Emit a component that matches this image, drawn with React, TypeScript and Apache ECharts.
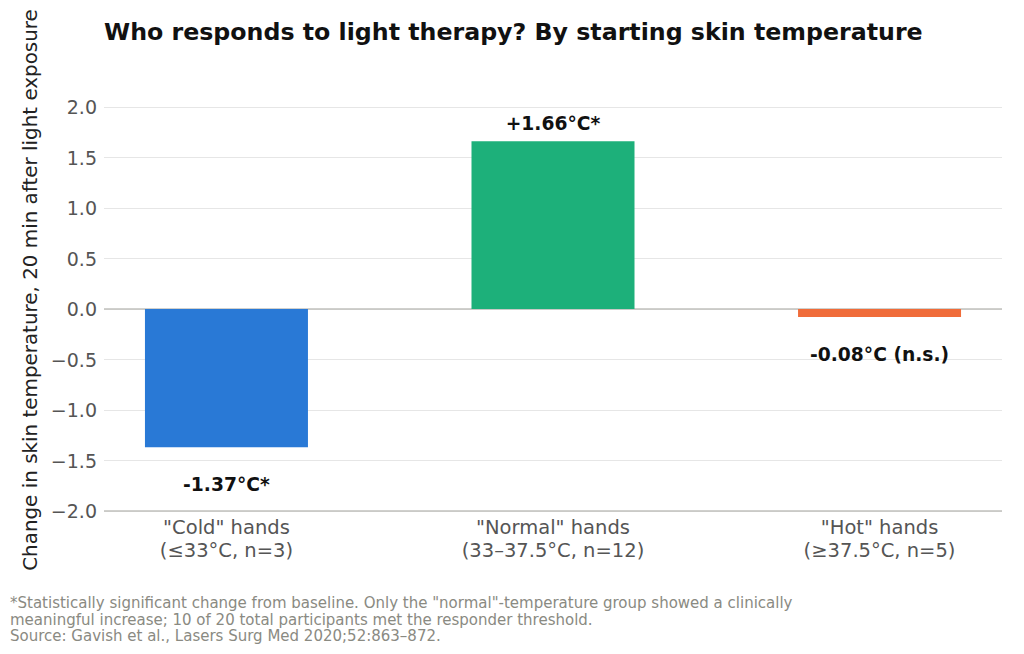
import React, { useEffect, useRef } from "react";
import * as echarts from "echarts";

const categories = ['"Cold" hands\n(≤33°C, n=3)', '"Normal" hands\n(33–37.5°C, n=12)', '"Hot" hands\n(≥37.5°C, n=5)'];
const values = [-1.37, 1.66, -0.08];
const barLabels = ["-1.37°C*", "+1.66°C*", "-0.08°C (n.s.)"];
const barColors = ["#2979d6", "#1db07a", "#f06c3a"];
const titleText = "Who responds to light therapy? By starting skin temperature";
const yAxisTitle = "Change in skin temperature, 20 min after light exposure";
const footnote = [
  '*Statistically significant change from baseline. Only the "normal"-temperature group showed a clinically',
  "meaningful increase; 10 of 20 total participants met the responder threshold.",
  "Source: Gavish et al., Lasers Surg Med 2020;52:863–872.",
];

const FONT = "DejaVu Sans";

export default function App() {
  const ref = useRef<HTMLDivElement>(null);
  useEffect(() => {
    if (!ref.current) return;
    const chart = echarts.init(ref.current, null, { renderer: "svg" });
    chart.setOption({
      animation: false,
      backgroundColor: "#ffffff",
      textStyle: { fontFamily: FONT },
      title: {
        text: titleText,
        left: 99,
        top: 15,
        textStyle: { fontFamily: FONT, fontSize: 23.7, fontWeight: "bold", color: "#111111" },
      },
      grid: { left: 104, right: 22, top: 107, bottom: 143 },
      xAxis: {
        type: "value",
        min: -0.375,
        max: 2.375,
        splitLine: { show: false },
        axisTick: { show: false },
        axisLine: { show: false },
        axisLabel: {
          customValues: [0, 1, 2],
          formatter: (v: number) => categories[Math.round(v)] ?? "",
          fontFamily: FONT,
          fontSize: 19.5,
          color: "#555555",
          lineHeight: 23,
          margin: 5,
        },
      },
      yAxis: {
        type: "value",
        min: -2,
        max: 2,
        interval: 0.5,
        axisLine: { show: false },
        axisTick: { show: false },
        splitLine: { lineStyle: { color: "#e6e6e6", width: 1 } },
        axisLabel: {
          formatter: (v: number) => (v < 0 ? "\u2212" + Math.abs(v).toFixed(1) : v.toFixed(1)),
          fontFamily: FONT,
          fontSize: 19,
          color: "#555555",
          margin: 7,
        },
      },
      series: [
        {
          type: "bar",
          barWidth: 163,
          data: values.map((v, i) => ({
            value: [i, v],
            itemStyle: { color: barColors[i] },
            label: {
              show: true,
              position: v >= 0 ? "top" : "bottom",
              distance: v >= 0 ? 8 : 28,
              formatter: barLabels[i],
              fontFamily: FONT,
              fontSize: 18.7,
              fontWeight: "bold",
              color: "#111111",
            },
          })),
          markLine: {
            silent: true,
            symbol: "none",
            label: { show: false },
            lineStyle: { color: "#c0c0bc", width: 1.5, type: "solid" },
            data: [{ yAxis: 0 }, { yAxis: -2 }],
            z: 1,
          },
        },
      ],
      graphic: [
        {
          type: "text",
          x: 30,
          y: 290,
          rotation: Math.PI / 2,
          style: {
            text: yAxisTitle,
            fontFamily: FONT,
            fontSize: 19.9,
            fill: "#222222",
            align: "center",
            verticalAlign: "middle",
          },
        },
        {
          type: "text",
          left: 10,
          top: 595,
          style: {
            text: footnote.join("\n"),
            fontFamily: FONT,
            fontSize: 15,
            lineHeight: 16.5,
            fill: "#8a8a82",
          },
        },
      ],
    });
    return () => chart.dispose();
  }, []);
  return <div ref={ref} style={{ width: 1024, height: 654, margin: -8 }} />;
}
